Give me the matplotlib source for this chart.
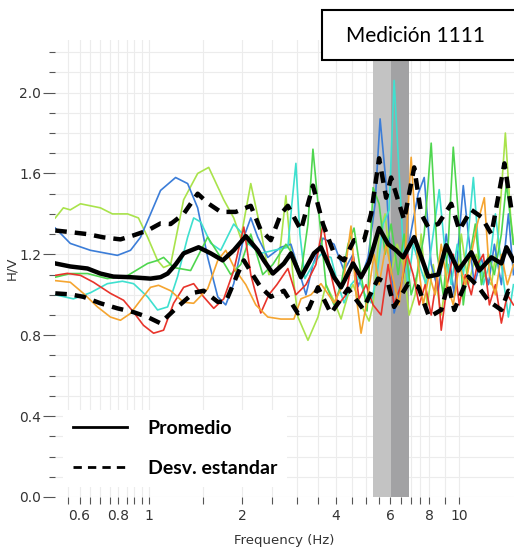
import numpy as np
import matplotlib
matplotlib.use("Agg")
import matplotlib.pyplot as plt
from matplotlib.lines import Line2D
from matplotlib.patches import Rectangle
from matplotlib.ticker import FixedLocator, NullFormatter

# individual H/V windows (frequency in Hz, amplitude)
blue_f = [0.501, 0.560, 0.650, 0.794, 0.875, 0.942, 1.015, 1.093, 1.222, 1.336, 1.439, 1.550, 1.670,
          1.772, 1.880, 2.026, 2.133, 2.246, 2.420, 2.666, 2.872, 3.047, 3.210, 3.381, 3.642, 3.953,
          4.256, 4.550, 4.723, 5.087, 5.358, 5.561, 5.814, 6.170, 6.500, 6.847, 7.375, 7.711, 8.121,
          8.555, 9.079, 9.636, 10.30, 10.69, 11.18, 11.78, 12.41, 12.97, 13.66, 14.39, 14.94]
blue_v = [1.33, 1.254, 1.22, 1.195, 1.22, 1.284, 1.40, 1.516, 1.58, 1.55, 1.43, 1.185, 0.99,
          0.95, 1.055, 1.285, 1.38, 1.285, 1.185, 1.235, 1.25, 1.12, 1.00, 1.15, 1.28, 1.25,
          1.12, 1.20, 1.04, 1.185, 1.45, 1.87, 1.55, 0.91, 1.05, 1.235, 1.50, 1.58, 1.15,
          1.02, 1.30, 1.00, 1.54, 1.30, 1.05, 1.18, 1.05, 1.25, 1.05, 1.40, 1.10]

yg_f = [0.501, 0.532, 0.560, 0.604, 0.700, 0.765, 0.856, 0.928, 0.993, 1.069, 1.118, 1.178, 1.297,
        1.439, 1.562, 1.746, 1.880, 1.981, 2.133, 2.297, 2.438, 2.607, 2.767, 2.914, 3.025, 3.258,
        3.509, 3.724, 3.953, 4.164, 4.385, 4.550, 4.829, 5.125, 5.280, 5.520, 5.771, 6.034, 6.310,
        6.597, 6.898, 7.212, 7.541, 7.884, 8.243, 8.747, 9.214, 9.707, 10.15, 10.69, 11.34, 11.95,
        12.69, 13.36, 14.07, 14.61, 14.94]
yg_v = [1.38, 1.43, 1.42, 1.45, 1.43, 1.40, 1.40, 1.38, 1.285, 1.17, 1.135, 1.15, 1.47,
        1.60, 1.63, 1.47, 1.38, 1.28, 1.55, 1.32, 1.10, 1.12, 1.49, 1.10, 0.89, 0.775,
        0.89, 1.05, 0.97, 0.88, 1.00, 1.05, 0.95, 0.87, 0.95, 1.30, 1.40, 1.10, 1.25,
        1.15, 0.90, 1.00, 1.30, 0.95, 1.15, 0.90, 1.15, 1.00, 1.30, 1.05, 1.20, 1.10,
        1.05, 1.30, 1.80, 1.40, 1.25]

green_f = [0.501, 0.560, 0.636, 0.737, 0.856, 0.993, 1.069, 1.118, 1.204, 1.366, 1.550, 1.682, 1.839,
           1.981, 2.133, 2.331, 2.512, 2.767, 2.914, 3.093, 3.258, 3.381, 3.535, 3.724, 3.953, 4.164,
           4.385, 4.584, 4.829, 5.049, 5.280, 5.520, 5.771, 6.034, 6.356, 6.647, 7.001, 7.320, 7.711,
           8.121, 8.492, 8.879, 9.214, 9.564, 9.926, 10.30, 10.69, 11.26, 11.78, 12.41, 12.97, 13.66,
           14.18, 14.94]
green_v = [1.087, 1.105, 1.105, 1.08, 1.095, 1.155, 1.17, 1.185, 1.135, 1.12, 1.285, 1.20, 1.10,
           1.15, 1.30, 1.10, 1.15, 1.25, 1.20, 1.10, 1.35, 1.72, 1.40, 1.05, 0.95, 1.05,
           1.25, 1.33, 1.10, 0.92, 1.53, 1.45, 1.20, 1.35, 1.10, 1.30, 1.00, 1.10, 1.30,
           1.75, 1.20, 1.00, 1.25, 1.73, 1.40, 0.95, 1.15, 1.35, 1.05, 1.20, 1.10, 1.30,
           1.55, 1.25]

cyan_f = [0.501, 0.573, 0.650, 0.737, 0.824, 0.895, 0.993, 1.069, 1.152, 1.240, 1.336, 1.397, 1.472,
          1.585, 1.707, 1.880, 2.010, 2.102, 2.297, 2.531, 2.808, 2.893, 2.980, 3.070, 3.186, 3.381,
          3.588, 3.864, 4.072, 4.256, 4.483, 4.723, 4.975, 5.202, 5.439, 5.685, 5.946, 6.170, 6.404,
          6.597, 6.847, 7.106, 7.430, 7.826, 8.243, 8.618, 9.012, 9.423, 9.852, 10.30, 10.69, 11.10,
          11.51, 11.95, 12.50, 13.07, 13.66, 14.39, 14.94]
cyan_v = [1.00, 0.98, 1.01, 1.055, 1.067, 1.055, 0.99, 0.925, 0.94, 1.09, 1.285, 1.38, 1.36,
          1.255, 1.22, 1.35, 1.30, 1.25, 1.205, 1.22, 1.235, 1.45, 1.65, 1.30, 1.08, 1.15,
          1.20, 1.185, 1.05, 0.96, 1.05, 1.09, 1.00, 0.96, 1.10, 1.35, 1.42, 2.06, 1.60,
          1.235, 1.05, 1.25, 1.15, 1.05, 1.30, 1.52, 1.20, 1.05, 1.25, 1.10, 1.30, 1.58,
          1.25, 1.05, 1.15, 1.40, 1.15, 0.89, 1.05]

red_f = [0.501, 0.548, 0.604, 0.665, 0.754, 0.831, 0.895, 0.963, 1.038, 1.118, 1.204, 1.297, 1.397,
         1.504, 1.621, 1.746, 1.880, 2.026, 2.133, 2.297, 2.438, 2.588, 2.808, 2.980, 3.210, 3.457,
         3.642, 3.864, 4.072, 4.320, 4.550, 4.758, 5.012, 5.280, 5.602, 5.902, 6.170, 6.500, 6.797,
         7.106, 7.430, 7.768, 8.121, 8.492, 8.747, 9.146, 9.564, 10.0, 10.46, 10.93, 11.43, 11.95,
         12.50, 13.07, 13.66, 14.28, 14.94]
red_v = [1.096, 1.106, 1.096, 1.062, 1.007, 0.973, 0.914, 0.849, 0.81, 0.825, 0.958, 1.037, 1.055,
         0.99, 0.933, 0.98, 1.12, 1.335, 1.10, 0.91, 1.00, 1.05, 1.13, 1.00, 1.05, 1.15,
         1.35, 1.10, 0.95, 1.00, 1.20, 0.98, 1.05, 0.95, 0.90, 1.15, 0.95, 1.05, 1.20,
         1.10, 0.95, 1.05, 0.90, 1.10, 0.825, 1.05, 1.20, 0.95, 1.10, 1.00, 1.15, 1.20,
         0.95, 1.05, 0.86, 1.00, 0.95]

orange_f = [0.501, 0.560, 0.617, 0.685, 0.754, 0.812, 0.875, 0.942, 1.015, 1.077, 1.178, 1.297, 1.397,
            1.550, 1.670, 1.772, 1.908, 2.056, 2.214, 2.420, 2.666, 2.936, 3.093, 3.331, 3.588, 3.953,
            4.226, 4.483, 4.653, 4.829, 5.087, 5.319, 5.520, 5.814, 6.079, 6.404, 6.696, 7.001, 7.320,
            7.654, 8.002, 8.366, 8.747, 9.146, 9.564, 10.0, 10.46, 10.93, 11.43, 12.04, 12.50, 13.07,
            13.66, 14.28, 14.94]
orange_v = [1.07, 1.062, 1.007, 0.94, 0.89, 0.874, 0.908, 0.973, 1.037, 1.047, 1.02, 0.963, 0.958,
            1.03, 1.17, 1.22, 1.12, 1.05, 0.95, 0.89, 0.88, 0.88, 0.98, 1.00, 1.055, 0.96,
            1.05, 1.34, 1.00, 0.81, 1.00, 1.20, 1.05, 1.25, 1.10, 0.95, 1.20, 1.68, 1.20,
            0.95, 1.10, 1.00, 1.25, 1.05, 0.95, 1.15, 1.05, 1.20, 1.35, 1.48, 1.10, 1.00,
            1.20, 1.05, 1.15]

# average curve and mean +/- standard deviation
mean_f = [0.501, 0.560, 0.636, 0.700, 0.771, 0.875, 1.015, 1.093, 1.152, 1.222, 1.297, 1.449, 1.585,
          1.733, 1.880, 2.056, 2.246, 2.350, 2.512, 2.726, 2.872, 3.093, 3.406, 3.588, 3.953, 4.164,
          4.550, 4.829, 5.125, 5.520, 5.902, 6.263, 6.597, 7.159, 7.943, 8.555, 9.079, 9.926, 10.93,
          11.60, 12.69, 13.66, 14.18, 14.94]
mean_v = [1.155, 1.14, 1.13, 1.105, 1.09, 1.087, 1.08, 1.087, 1.105, 1.15, 1.205, 1.235, 1.205,
          1.17, 1.22, 1.29, 1.22, 1.17, 1.105, 1.155, 1.205, 1.087, 1.205, 1.235, 1.087, 1.037,
          1.155, 1.087, 1.16, 1.33, 1.25, 1.22, 1.185, 1.285, 1.09, 1.10, 1.245, 1.12, 1.21,
          1.12, 1.185, 1.155, 1.235, 1.17]

upper_f = [0.501, 0.560, 0.636, 0.716, 0.812, 0.895, 0.993, 1.093, 1.178, 1.297, 1.439, 1.562, 1.707,
           1.908, 2.133, 2.297, 2.475, 2.666, 2.808, 3.093, 3.381, 3.642, 3.953, 4.256, 4.584, 4.938,
           5.202, 5.520, 5.814, 6.034, 6.404, 6.647, 7.159, 7.541, 7.943, 8.555, 9.423, 10.0, 10.93,
           11.78, 12.69, 13.97, 14.72]
upper_v = [1.318, 1.31, 1.30, 1.284, 1.274, 1.294, 1.318, 1.353, 1.35, 1.40, 1.50, 1.45, 1.41,
           1.41, 1.44, 1.32, 1.27, 1.40, 1.44, 1.32, 1.54, 1.35, 1.205, 1.17, 1.27, 1.27,
           1.40, 1.675, 1.48, 1.58, 1.45, 1.37, 1.63, 1.40, 1.335, 1.35, 1.45, 1.32, 1.42,
           1.385, 1.30, 1.65, 1.42]

lower_f = [0.501, 0.560, 0.617, 0.700, 0.794, 0.895, 0.993, 1.093, 1.118, 1.240, 1.397, 1.504, 1.670,
           1.772, 1.937, 2.026, 2.182, 2.297, 2.475, 2.726, 3.025, 3.282, 3.509, 3.864, 4.385, 4.901,
           5.479, 5.902, 6.170, 6.847, 7.375, 8.002, 8.747, 9.214, 9.636, 10.69, 11.51, 12.41, 13.66,
           14.39, 14.94]
lower_v = [1.007, 1.002, 0.99, 0.958, 0.933, 0.914, 0.89, 0.859, 0.875, 0.94, 1.01, 1.02, 0.965,
           0.965, 1.105, 1.17, 1.09, 1.037, 0.99, 1.02, 0.908, 0.933, 1.037, 0.908, 1.03, 0.93,
           1.08, 1.055, 0.94, 1.055, 1.04, 0.89, 0.925, 1.055, 0.925, 1.09, 1.04, 0.97, 0.925,
           1.02, 1.01]

# peak frequency band (f0 - std, f0, f0 + std)
f0_low, f0, f0_high = 5.28, 6.03, 6.90

fig = plt.figure(figsize=(5.14, 5.5), dpi=100)
ax = fig.add_axes([55 / 514, 53 / 550, 1 - 55 / 514, 457 / 550])

ax.axvspan(f0_low, f0, color='#c3c3c3', lw=0, zorder=1)
ax.axvspan(f0, f0_high, color='#a2a2a4', lw=0, zorder=1)

windows = [(yg_f, yg_v, '#a9e34b'), (blue_f, blue_v, '#3b7dd8'), (cyan_f, cyan_v, '#3fe0cf'),
           (green_f, green_v, '#4fd64f'), (red_f, red_v, '#e8342b'), (orange_f, orange_v, '#f5a530')]
for f, v, c in windows:
    ax.plot(f, v, color=c, lw=1.2, zorder=2, solid_joinstyle='round')

ax.plot(mean_f, mean_v, color='black', lw=3.2, zorder=4, solid_joinstyle='round')
ax.plot(upper_f, upper_v, color='black', lw=3.2, ls=(0, (2.6, 1.8)), zorder=4)
ax.plot(lower_f, lower_v, color='black', lw=3.2, ls=(0, (2.6, 1.8)), zorder=4)

ax.set_xscale('log')
ax.set_xlim(0.5, 15.0)
ax.set_ylim(0, 2.26)

major_x = [0.6, 0.8, 1, 2, 4, 6, 8, 10]
minor_x = [0.55, 0.65, 0.7, 0.75, 0.85, 0.9, 0.95, 1.5, 2.5, 3, 3.5, 4.5, 5, 5.5, 6.5, 7, 7.5, 9]
ax.xaxis.set_major_locator(FixedLocator(major_x))
ax.xaxis.set_minor_locator(FixedLocator(minor_x))
ax.xaxis.set_minor_formatter(NullFormatter())
ax.set_xticklabels(['0.6', '0.8', '1', '2', '4', '6', '8', '10'])
ax.set_yticks(np.arange(0, 2.01, 0.4))
ax.set_yticklabels(['0.0', '0.4', '0.8', '1.2', '1.6', '2.0'])
ax.set_yticks(np.arange(0, 2.25, 0.1), minor=True)

ax.grid(True, which='both', color='#ececec', lw=0.8, zorder=0)
ax.set_axisbelow(True)
for s in ax.spines.values():
    s.set_visible(False)
ax.tick_params(axis='both', which='major', colors='#555555', labelcolor='#333333', labelsize=10)
ax.tick_params(axis='y', which='major', length=9, width=0.8, pad=1)
ax.tick_params(axis='y', which='minor', length=4.5, width=0.8, colors='#555555')
ax.tick_params(axis='x', which='both', length=5, width=0.8, colors='#555555')
ax.tick_params(axis='x', which='major', labelcolor='#333333')

ax.set_xlabel('Frequency (Hz)', fontsize=9.5, color='#333333', labelpad=8)
ax.set_ylabel('H/V', fontsize=9.5, color='#333333')
ax.yaxis.set_label_coords(-0.08, 0.5)

handles = [Line2D([], [], color='black', lw=2),
           Line2D([], [], color='black', lw=2, ls=(0, (3.0, 2.2)))]
leg = ax.legend(handles, ['Promedio', 'Desv. estandar'], loc='lower left',
                bbox_to_anchor=(0.018, 0.022), frameon=True, fancybox=False,
                edgecolor='none', facecolor='white', framealpha=1,
                prop={'family': 'Lato', 'weight': 'bold', 'size': 14},
                handlelength=2.8, handletextpad=1.05, labelspacing=1.2,
                borderpad=0.5, borderaxespad=0)
leg.set_zorder(5)

fig.add_artist(Rectangle((322 / 514, 1 - 60 / 550), 0.4, 50 / 550, transform=fig.transFigure,
                         facecolor='white', edgecolor='black', lw=1.5, zorder=6))
fig.text(416 / 514, 1 - 36 / 550, 'Medición 1111', fontsize=15, family='Lato',
         ha='center', va='center', zorder=7)

fig.savefig('out.png', dpi=100)
